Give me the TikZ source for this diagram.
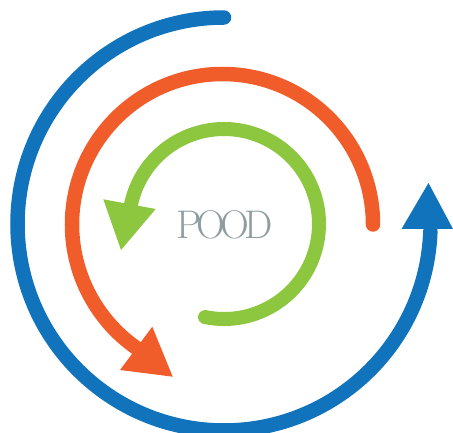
\documentclass[tikz,border=0pt]{standalone}
\definecolor{cblue}{HTML}{1073BC}
\definecolor{corange}{HTML}{F15D2A}
\definecolor{cgreen}{HTML}{8DC63F}
\definecolor{cgrey}{HTML}{8E9DA0}
\tikzset{
  ring/.style={line width=#1, line cap=round},
  ring/.default=14.5pt
}
\begin{document}
\begin{tikzpicture}[x=1pt,y=-1pt]
\useasboundingbox (0,0) rectangle (453,433);
\coordinate (c) at (224,224);
\coordinate (co) at (222.5,224.5);
% blue
\draw[ring,cblue] (c) ++(-90:206.5) arc[start angle=-90,end angle=-358,radius=206.5];
\fill[cblue] (428.5,183) -- (453,229) -- (401.5,229) -- cycle;
% orange
\draw[ring,corange] (co) ++(0:150.5) arc[start angle=0,end angle=-237,radius=150.5];
\fill[corange] (152.3,326.7) -- (172.7,376.7) -- (120,370) -- cycle;
% green
\draw[ring=14pt,cgreen] (c) ++(101.5:95) arc[start angle=101.5,end angle=-172,radius=95];
\fill[cgreen] (103.3,199.3) -- (155.7,209) -- (121,250) -- cycle;
\node[text=cgrey,inner sep=0pt,font=\fontsize{40}{40}\selectfont] (pood) at (224.5,224.5)
  {P\kern-5pt O\kern-5pt O\kern-4.5pt D};
\end{tikzpicture}
\end{document}
